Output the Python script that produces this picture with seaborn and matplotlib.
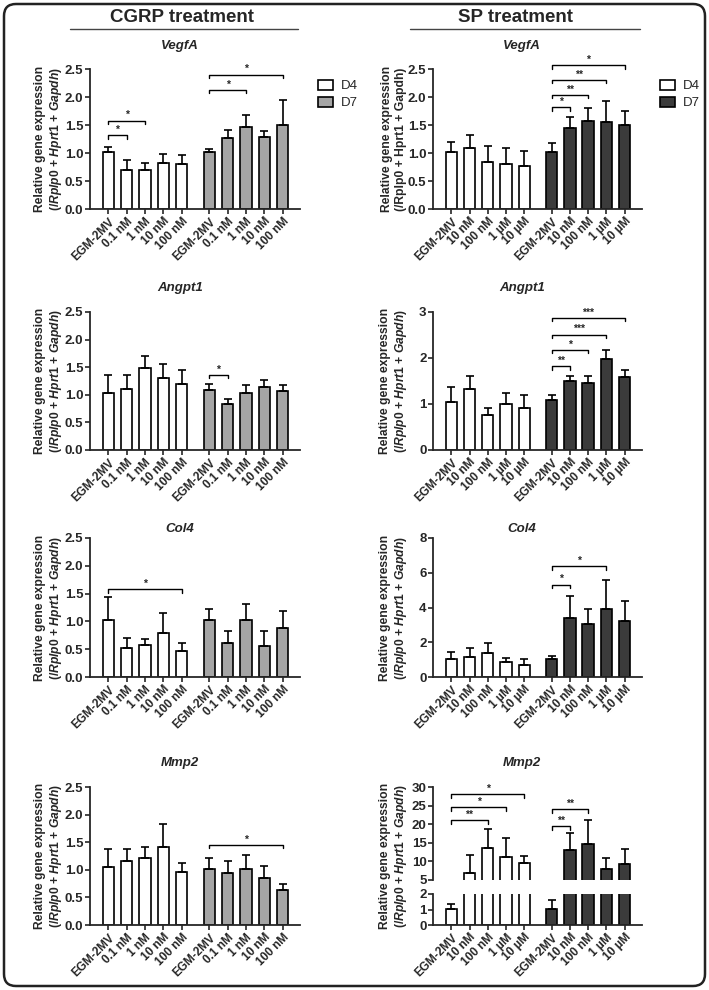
import numpy as np
import pandas as pd
import matplotlib
matplotlib.use("Agg")
import matplotlib.pyplot as plt
from matplotlib.patches import Patch, FancyBboxPatch
from matplotlib.lines import Line2D
import seaborn as sns

# ---- data (mean and upper error) ----
cgrp_labels = ["EGM-2MV", "0.1 nM", "1 nM", "10 nM", "100 nM"]
sp_labels = ["EGM-2MV", "10 nM", "100 nM", "1 µM", "10 µM"]

cgrp_vegfa_d4 = [1.01, 0.69, 0.70, 0.83, 0.80]
cgrp_vegfa_d4_err = [0.09, 0.18, 0.12, 0.15, 0.16]
cgrp_vegfa_d7 = [1.01, 1.26, 1.47, 1.28, 1.50]
cgrp_vegfa_d7_err = [0.06, 0.15, 0.20, 0.11, 0.45]
cgrp_vegfa_sig = [("D4", 1, "*", 1.32), ("D4", 2, "*", 1.58),
                  ("D7", 2, "*", 2.13), ("D7", 4, "*", 2.40)]

sp_vegfa_d4 = [1.02, 1.09, 0.84, 0.81, 0.77]
sp_vegfa_d4_err = [0.18, 0.23, 0.28, 0.28, 0.27]
sp_vegfa_d7 = [1.02, 1.45, 1.58, 1.56, 1.50]
sp_vegfa_d7_err = [0.15, 0.20, 0.23, 0.36, 0.25]
sp_vegfa_sig = [("D7", 1, "*", 1.82), ("D7", 2, "**", 2.04),
                ("D7", 3, "**", 2.31), ("D7", 4, "*", 2.57)]

cgrp_angpt1_d4 = [1.04, 1.11, 1.49, 1.30, 1.20]
cgrp_angpt1_d4_err = [0.31, 0.25, 0.21, 0.25, 0.25]
cgrp_angpt1_d7 = [1.08, 0.83, 1.04, 1.15, 1.07]
cgrp_angpt1_d7_err = [0.11, 0.10, 0.13, 0.11, 0.10]
cgrp_angpt1_sig = [("D7", 1, "*", 1.36)]

sp_angpt1_d4 = [1.05, 1.32, 0.76, 0.99, 0.92]
sp_angpt1_d4_err = [0.31, 0.28, 0.16, 0.26, 0.28]
sp_angpt1_d7 = [1.08, 1.49, 1.45, 1.98, 1.59]
sp_angpt1_d7_err = [0.12, 0.12, 0.16, 0.20, 0.16]
sp_angpt1_sig = [("D7", 1, "**", 1.82), ("D7", 2, "*", 2.18),
                 ("D7", 3, "***", 2.51), ("D7", 4, "***", 2.87)]

cgrp_col4_d4 = [1.02, 0.52, 0.58, 0.80, 0.47]
cgrp_col4_d4_err = [0.42, 0.19, 0.11, 0.36, 0.15]
cgrp_col4_d7 = [1.02, 0.61, 1.03, 0.55, 0.88]
cgrp_col4_d7_err = [0.21, 0.21, 0.28, 0.27, 0.30]
cgrp_col4_sig = [("D4", 4, "*", 1.58)]

sp_col4_d4 = [1.01, 1.17, 1.40, 0.88, 0.71]
sp_col4_d4_err = [0.43, 0.51, 0.55, 0.19, 0.34]
sp_col4_d7 = [1.01, 3.41, 3.04, 3.90, 3.22]
sp_col4_d7_err = [0.21, 1.26, 0.88, 1.67, 1.14]
sp_col4_sig = [("D7", 1, "*", 5.32), ("D7", 3, "*", 6.37)]

cgrp_mmp2_d4 = [1.05, 1.16, 1.22, 1.42, 0.96]
cgrp_mmp2_d4_err = [0.32, 0.22, 0.20, 0.41, 0.17]
cgrp_mmp2_d7 = [1.01, 0.95, 1.02, 0.86, 0.63]
cgrp_mmp2_d7_err = [0.21, 0.21, 0.25, 0.21, 0.11]
cgrp_mmp2_sig = [("D7", 4, "*", 1.45)]

sp_mmp2_d4 = [1.01, 7.0, 13.7, 11.3, 9.6]
sp_mmp2_d4_err = [0.33, 4.6, 5.1, 4.9, 1.9]
sp_mmp2_d7 = [1.05, 13.0, 14.6, 7.9, 9.4]
sp_mmp2_d7_err = [0.58, 4.6, 6.6, 3.0, 4.0]
sp_mmp2_sig = [("D4", 2, "**", 21.05), ("D4", 3, "*", 24.6), ("D4", 4, "*", 28.0),
               ("D7", 1, "**", 19.5), ("D7", 2, "**", 24.0)]

# ---- style ----
sns.set_style("ticks")
plt.rcParams["font.family"] = ["Liberation Sans", "DejaVu Sans"]
plt.rcParams["font.weight"] = "bold"
plt.rcParams["mathtext.fontset"] = "custom"
plt.rcParams["mathtext.rm"] = "Liberation Sans:bold"
plt.rcParams["mathtext.it"] = "Liberation Sans:italic:bold"
plt.rcParams["mathtext.bf"] = "Liberation Sans:bold"
plt.rcParams["axes.linewidth"] = 1.3

W, H = 709, 990
fig = plt.figure(figsize=(7.09, 9.90), dpi=100)

CGRP_GRAY = "#a5a5a5"
SP_DARK = "#3b3b3b"
POS = np.r_[np.arange(5), np.arange(5) + 5.5]
LW = 1.2


def px_axes(x0, y0, x1, y1):
    return fig.add_axes([x0 / W, 1 - y1 / H, (x1 - x0) / W, (y1 - y0) / H])


def draw_bars(ax, d4, d4e, d7, d7e, d7_color):
    df = pd.DataFrame({"pos": POS, "value": d4 + d7,
                       "day": ["D4"] * 5 + ["D7"] * 5})
    sns.barplot(data=df, x="pos", y="value", hue="day",
                palette={"D4": "white", "D7": d7_color},
                native_scale=True, dodge=False, width=0.62,
                edgecolor="black", linewidth=LW, errorbar=None,
                legend=False, ax=ax)
    errs = np.array(d4e + d7e)
    ax.errorbar(POS, df["value"], yerr=[np.zeros(10), errs], fmt="none",
                ecolor="black", elinewidth=LW, capsize=2.6, capthick=LW)


def style_axes(ax, ylim, yticks, fmt, labels, show_x=True):
    ax.set_xlim(-1, 10.45)
    ax.set_ylim(*ylim)
    ax.set_yticks(yticks)
    ax.set_yticklabels([fmt.format(t) for t in yticks])
    ax.set_xlabel("")
    ax.set_ylabel("")
    sns.despine(ax=ax)
    ax.tick_params(axis="both", direction="out", length=3.5, width=LW,
                   labelsize=9.5, pad=1.2)
    if show_x:
        ax.set_xticks(POS)
        ax.set_xticklabels(labels * 2, rotation=45, ha="right", va="top",
                           rotation_mode="anchor", fontsize=8.5,
                           fontweight="bold")
    else:
        ax.set_xticks([])
        ax.spines["bottom"].set_visible(False)


def draw_sig(ax, sigs, height_px):
    y0, y1 = ax.get_ylim()
    leg = (y1 - y0) * 3.5 / height_px
    for day, j, star, y in sigs:
        base = 0 if day == "D4" else 5
        xa, xb = POS[base], POS[base + j]
        ax.plot([xa, xa, xb, xb], [y - leg, y, y, y - leg], color="black",
                lw=1.0, clip_on=False)
        ax.annotate(star, xy=((xa + xb) / 2, y), xytext=(0, 0.2),
                    textcoords="offset points", ha="center", va="bottom",
                    fontsize=7.5, fontweight="bold", annotation_clip=False)


ylab_it = ("Relative gene expression\n"
           r"(/$\mathit{Rplp0}$ + $\mathit{Hprt1}$ + $\mathit{Gapdh}$)")
ylab_plain = "Relative gene expression\n(/Rplp0 + Hprt1 + Gapdh)"

rows = [(69, 209), (312, 450), (538, 677), (787, 925)]
title_y = [46, 288, 529, 763]
genes = ["VegfA", "Angpt1", "Col4", "Mmp2"]
cols = {"cgrp": (90, 300, 49, 180), "sp": (433, 642, 394, 522)}

half = [0.0, 0.5, 1.0, 1.5, 2.0, 2.5]
panels = [
    ("cgrp", 0, cgrp_vegfa_d4, cgrp_vegfa_d4_err, cgrp_vegfa_d7, cgrp_vegfa_d7_err, cgrp_vegfa_sig, (0, 2.5), half, "{:.1f}"),
    ("sp", 0, sp_vegfa_d4, sp_vegfa_d4_err, sp_vegfa_d7, sp_vegfa_d7_err, sp_vegfa_sig, (0, 2.5), half, "{:.1f}"),
    ("cgrp", 1, cgrp_angpt1_d4, cgrp_angpt1_d4_err, cgrp_angpt1_d7, cgrp_angpt1_d7_err, cgrp_angpt1_sig, (0, 2.5), half, "{:.1f}"),
    ("sp", 1, sp_angpt1_d4, sp_angpt1_d4_err, sp_angpt1_d7, sp_angpt1_d7_err, sp_angpt1_sig, (0, 3), [0, 1, 2, 3], "{:.0f}"),
    ("cgrp", 2, cgrp_col4_d4, cgrp_col4_d4_err, cgrp_col4_d7, cgrp_col4_d7_err, cgrp_col4_sig, (0, 2.5), half, "{:.1f}"),
    ("sp", 2, sp_col4_d4, sp_col4_d4_err, sp_col4_d7, sp_col4_d7_err, sp_col4_sig, (0, 8), [0, 2, 4, 6, 8], "{:.0f}"),
    ("cgrp", 3, cgrp_mmp2_d4, cgrp_mmp2_d4_err, cgrp_mmp2_d7, cgrp_mmp2_d7_err, cgrp_mmp2_sig, (0, 2.5), half, "{:.1f}"),
]

for col, r, d4, d4e, d7, d7e, sig, ylim, yticks, fmt in panels:
    x0, x1, lab_x, tit_x = cols[col]
    top, bot = rows[r]
    ax = px_axes(x0, top, x1, bot)
    color = CGRP_GRAY if col == "cgrp" else SP_DARK
    draw_bars(ax, d4, d4e, d7, d7e, color)
    labels = cgrp_labels if col == "cgrp" else sp_labels
    style_axes(ax, ylim, yticks, fmt, labels)
    draw_sig(ax, sig, bot - top)
    ylab = ylab_plain if (col == "sp" and r == 0) else ylab_it
    fig.text(lab_x / W, 1 - (top + bot) / 2 / H, ylab, rotation=90,
             ha="center", va="center", fontsize=8.7, fontweight="bold",
             linespacing=1.15)
    fig.text(tit_x / W, 1 - title_y[r] / H, genes[r], ha="center",
             va="center", fontsize=9.5, fontweight="bold", style="italic")
    if r == 0:
        handles = [Patch(facecolor="white", edgecolor="black", lw=LW),
                   Patch(facecolor=color, edgecolor="black", lw=LW)]
        ax.legend(handles, ["D4", "D7"], loc="upper left",
                  bbox_to_anchor=((x1 + 11) / W, 1 - 73 / H),
                  bbox_transform=fig.transFigure, frameon=False,
                  handlelength=1.2, handleheight=0.8, handletextpad=0.6,
                  labelspacing=0.35, borderpad=0,
                  prop={"size": 9.5, "weight": "normal"})

# SP Mmp2 with broken y axis
x0, x1, lab_x, tit_x = cols["sp"]
ax_up = px_axes(x0, 787, x1, 880)
ax_lo = px_axes(x0, 894, x1, 925)
for a in (ax_up, ax_lo):
    draw_bars(a, sp_mmp2_d4, sp_mmp2_d4_err, sp_mmp2_d7, sp_mmp2_d7_err, SP_DARK)
style_axes(ax_up, (5, 30), [5, 10, 15, 20, 25, 30], "{:.0f}", sp_labels, show_x=False)
style_axes(ax_lo, (0, 2), [0, 1, 2], "{:.0f}", sp_labels)
draw_sig(ax_up, sp_mmp2_sig, 93)
fig.text(lab_x / W, 1 - 856 / H, ylab_it, rotation=90, ha="center",
         va="center", fontsize=8.7, fontweight="bold", linespacing=1.15)
fig.text(tit_x / W, 1 - title_y[3] / H, genes[3], ha="center", va="center",
         fontsize=9.5, fontweight="bold", style="italic")

# column headers
for text, cx, ux0, ux1 in [("CGRP treatment", 182, 70, 298),
                           ("SP treatment", 516, 410, 640)]:
    fig.text(cx / W, 1 - 18 / H, text, ha="center", va="center",
             fontsize=13.5, fontweight="bold")
    fig.add_artist(Line2D([ux0 / W, ux1 / W], [1 - 29 / H, 1 - 29 / H],
                          color="#444444", lw=1.0, transform=fig.transFigure))

# rounded frame
frame = FancyBboxPatch((0.04, 0.04), 7.01, 9.82,
                       boxstyle="round,pad=0,rounding_size=0.12",
                       transform=fig.dpi_scale_trans, fill=False,
                       edgecolor="#222222", lw=1.8)
fig.add_artist(frame)

fig.savefig("out.png", dpi=100)
